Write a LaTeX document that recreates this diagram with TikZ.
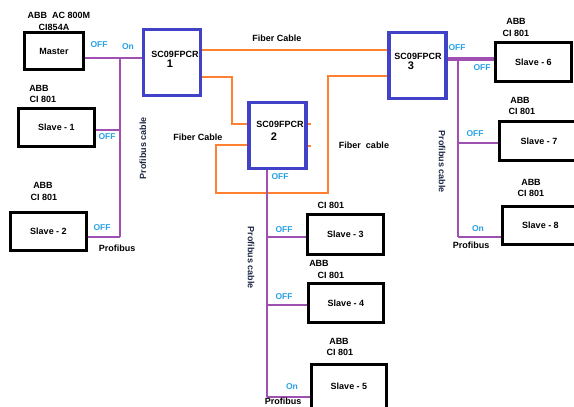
\documentclass[tikz,border=0pt]{standalone}
\usepackage{fontspec}
\setmainfont{Liberation Sans}
\usetikzlibrary{calc}

\definecolor{profi}{RGB}{160,80,176}
\definecolor{fiber}{RGB}{255,128,48}
\definecolor{scblue}{RGB}{66,66,200}
\definecolor{swblue}{RGB}{40,160,230}
\definecolor{navy}{RGB}{30,40,70}

\tikzset{
  lbl/.style={font=\bfseries\fontsize{9}{10}\selectfont,inner sep=0pt},
  sw/.style={lbl,font=\bfseries\fontsize{8.5}{10}\selectfont,text=swblue},
  slavebox/.style={draw=black,line width=2.6pt,fill=white,inner sep=0pt,
    font=\bfseries\fontsize{9}{10}\selectfont},
  scbox/.style={draw=scblue,line width=3.6pt,fill=white,inner sep=0pt,
    minimum width=57pt,minimum height=66pt},
  scnum/.style={font=\bfseries\fontsize{11}{12}\selectfont,inner sep=0pt},
  fib/.style={draw=fiber,line width=2.7pt},
  pbus/.style={draw=profi,line width=2.6pt},
  pcable/.style={lbl,text=navy}
}

\begin{document}
\begin{tikzpicture}[x=1pt,y=-1pt]
\clip (0,0) rectangle (574,407);

% controllers and slaves
\node[slavebox,minimum width=59pt,minimum height=37pt] (master) at (54,51) {Master};
\node[slavebox,minimum width=76pt,minimum height=38pt] (slave1) at (56.5,127.5) {Slave - 1};
\node[slavebox,minimum width=76pt,minimum height=38pt] (slave2) at (48.5,231.5) {Slave - 2};
\node[slavebox,minimum width=76pt,minimum height=40pt] (slave3) at (345.5,234.5) {Slave - 3};
\node[slavebox,minimum width=75pt,minimum height=39pt] (slave4) at (346,303) {Slave - 4};
\node[slavebox,minimum width=75pt,minimum height=44pt] (slave5) at (349,386.5) {Slave - 5};
\node[slavebox,minimum width=76pt,minimum height=39pt] (slave6) at (533.5,62) {Slave - 6};
\node[slavebox,minimum width=79pt,minimum height=39pt] (slave7) at (539,141) {Slave - 7};
\node[slavebox,minimum width=76pt,minimum height=38pt] (slave8) at (540.5,225.5) {Slave - 8};

% repeaters
\node[scbox] (sc1) at (172,62.5) {};
\node[scbox] (sc2) at (277.5,135.5) {};
\node[scbox] (sc3) at (417.5,65.5) {};
\node[lbl] (sc1t) at (175,54) {SC09FPCR};
\node[scnum] (sc1n) at (170,64) {1};
\node[lbl] (sc2t) at (280,124) {SC09FPCR};
\node[scnum] (sc2n) at (274,137) {2};
\node[lbl] (sc3t) at (418,56) {SC09FPCR};
\node[scnum] (sc3n) at (411,66) {3};

% fiber links
\draw[fib] (sc1.east |- 0,50) -- (sc3.west |- 0,50);
\draw[fib] (sc1.east |- 0,77) -- (232,77) -- (232,124) -- (sc2.west |- 0,124);
\draw[fib] (sc2.west |- 0,145) -- (216,145) -- (216,193) -- (328,193)
  -- (328,76) -- (sc3.west |- 0,76);
\draw[fib] (sc2.east |- 0,124) -- ++(3,0);
\draw[fib] (sc2.east |- 0,146) -- ++(3,0);
\node[lbl] (fc1) at (277,38) {Fiber Cable};
\node[lbl] (fc2) at (198,137) {Fiber Cable};
\node[lbl] (fc3) at (364,145) {Fiber~~cable};

% profibus, left segment
\coordinate (lTop) at (120,58);
\coordinate (lBot) at (120,237);
\draw[pbus] (master.east |- lTop) -- (sc1.west |- lTop);
\draw[pbus] (lTop) -- (lBot);
\draw[pbus] (slave1.east |- 0,130) -- (lTop |- 0,130);
\draw[pbus] (slave2.east |- lBot) -- (lBot);

% profibus, middle segment
\coordinate (mTop) at (267,170);
\coordinate (mBot) at (267,397);
\draw[pbus] (mTop) -- (mBot);
\draw[pbus] (mTop |- 0,237) -- (slave3.west |- 0,237);
\draw[pbus] (mTop |- 0,305) -- (slave4.west |- 0,305);
\draw[pbus] (mBot) -- (slave5.west |- mBot);

% profibus, right segment
\coordinate (rTop) at (458,59);
\coordinate (rBot) at (458,237);
\draw[pbus,line width=3.6pt] (sc3.east |- rTop) -- (slave6.west |- rTop);
\draw[pbus] (rTop) -- (rBot);
\draw[pbus] (rTop |- 0,143) -- (slave7.west |- 0,143);
\draw[pbus] (rBot) -- (slave8.west |- rBot);

% text above the boxes
\node[lbl] (mAbb) at (59,15) {ABB~~AC 800M};
\node[lbl] (mCi) at (54,27) {CI854A};
\node[lbl] (abb1) at (39,88) {ABB};
\node[lbl] (ci1) at (43,99) {CI 801};
\node[lbl] (abb2) at (43,185) {ABB};
\node[lbl] (ci2) at (44,197) {CI 801};
\node[lbl] (ci3) at (331,205) {CI 801};
\node[lbl] (abb4) at (319,263) {ABB};
\node[lbl] (ci4) at (331,275) {CI 801};
\node[lbl] (abb5) at (339,341) {ABB};
\node[lbl] (ci5) at (340,352) {CI 801};
\node[lbl] (abb6) at (516,21) {ABB};
\node[lbl] (ci6) at (516,33) {CI 801};
\node[lbl] (abb7) at (520,100) {ABB};
\node[lbl] (ci7) at (522,111) {CI 801};
\node[lbl] (abb8) at (531,182) {ABB};
\node[lbl] (ci8) at (531,193) {CI 801};

% terminator switches
\node[sw] (swM) at (99,45) {OFF};
\node[sw] (sw1in) at (128,47) {On};
\node[sw] (sw1) at (107,137) {OFF};
\node[sw] (sw2) at (102,228) {OFF};
\node[sw] (swR2) at (280,177) {OFF};
\node[sw] (sw3) at (284,230) {OFF};
\node[sw] (sw4) at (284,297) {OFF};
\node[sw] (sw5) at (292,387) {On};
\node[sw] (swR3) at (457,48) {OFF};
\node[sw] (sw6) at (482,68) {OFF};
\node[sw] (sw7) at (475,134) {OFF};
\node[sw] (sw8) at (478,229) {On};

% cable names
\node[lbl] (pL) at (117,248) {Profibus};
\node[lbl] (pM) at (283,401.5) {Profibus};
\node[lbl] (pR) at (471,245) {Profibus};
\node[pcable,rotate=90] (pcL) at (143,148) {Profibus cable};
\node[pcable,rotate=-90] (pcM) at (251,258) {Profibus cable};
\node[pcable,rotate=-90] (pcR) at (442,162) {Profibus cable};

\end{tikzpicture}
\end{document}
